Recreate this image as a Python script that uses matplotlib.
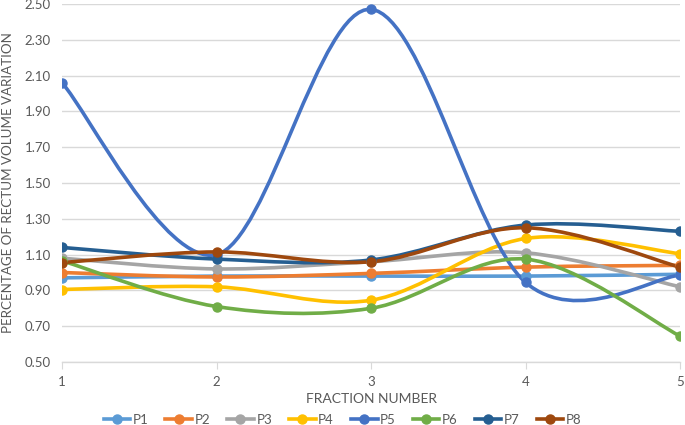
import matplotlib.pyplot as plt
from matplotlib.path import Path
from matplotlib.patches import PathPatch
from matplotlib.lines import Line2D

fractions = [1, 2, 3, 4, 5]
series_names = ["P1", "P2", "P3", "P4", "P5", "P6", "P7", "P8"]
p1 = [0.97, 0.98, 0.98, 0.98, 0.99]
p2 = [1.00, 0.975, 0.995, 1.03, 1.04]
p3 = [1.08, 1.02, 1.06, 1.11, 0.92]
p4 = [0.905, 0.92, 0.845, 1.19, 1.105]
p5 = [2.06, 1.10, 2.47, 0.945, 0.985]
p6 = [1.065, 0.81, 0.80, 1.075, 0.645]
p7 = [1.14, 1.075, 1.07, 1.265, 1.23]
p8 = [1.055, 1.115, 1.06, 1.25, 1.03]
colors = ["#5B9BD5", "#ED7D31", "#A5A5A5", "#FFC000",
          "#4472C4", "#70AD47", "#255E91", "#9E480E"]
yticks = [0.50, 0.70, 0.90, 1.10, 1.30, 1.50, 1.70, 1.90, 2.10, 2.30, 2.50]

plt.rcParams['font.family'] = ['Lato', 'DejaVu Sans']
txt = "#595959"

fig = plt.figure(figsize=(6.85, 4.25), dpi=100)
ax = fig.add_axes([62 / 685, 1 - 362 / 425, 618 / 685, 358 / 425])


def smooth_path(xs, ys):
    # Excel-style smoothed line: Catmull-Rom segments as cubic Beziers
    pts = list(zip(xs, ys))
    n = len(pts)
    verts = [pts[0]]
    codes = [Path.MOVETO]
    for i in range(n - 1):
        p0 = pts[i - 1] if i > 0 else pts[i]
        pa = pts[i]
        pb = pts[i + 1]
        p3_ = pts[i + 2] if i + 2 < n else pts[i + 1]
        c1 = (pa[0] + (pb[0] - p0[0]) / 6, pa[1] + (pb[1] - p0[1]) / 6)
        c2 = (pb[0] - (p3_[0] - pa[0]) / 6, pb[1] - (p3_[1] - pa[1]) / 6)
        verts += [c1, c2, pb]
        codes += [Path.CURVE4] * 3
    return Path(verts, codes)


all_series = [p1, p2, p3, p4, p5, p6, p7, p8]
handles = []
for name, vals, c in zip(series_names, all_series, colors):
    patch = PathPatch(smooth_path(fractions, vals), facecolor="none",
                      edgecolor=c, lw=2.6, capstyle="round", zorder=3)
    ax.add_patch(patch)
    ax.plot(fractions, vals, "o", color=c, ms=6.5, zorder=4)
    handles.append(Line2D([0], [0], color=c, lw=2.6, marker="o", ms=6.5, label=name))

ax.set_xlim(1, 5)
ax.set_ylim(0.5, 2.5)
ax.set_xticks(fractions)
ax.set_yticks(yticks)
ax.set_yticklabels([f"{v:.2f}" for v in yticks])
ax.grid(axis="y", color="#D9D9D9", lw=1)
ax.set_axisbelow(True)
for s in ["top", "right", "left"]:
    ax.spines[s].set_visible(False)
ax.spines["bottom"].set_color("#D9D9D9")
ax.spines["bottom"].set_linewidth(1)
ax.spines["bottom"].set_zorder(1)
ax.tick_params(axis="y", length=0, pad=8, labelsize=9.5, labelcolor=txt)
ax.tick_params(axis="x", length=5, color="#D9D9D9", pad=5, labelsize=9.5, labelcolor=txt)

ax.set_xlabel("FRACTION NUMBER", fontsize=10, color=txt, labelpad=4)
ax.set_ylabel("PERCENTAGE OF RECTUM VOLUME VARIATION", fontsize=9.6, color=txt, labelpad=8)

fig.legend(handles=handles, loc="lower center", bbox_to_anchor=(0.5, -0.03), ncol=8,
           frameon=False, fontsize=9.5, labelcolor=txt, handlelength=2.0,
           handletextpad=0.2, columnspacing=1.3)

fig.savefig("out.png", dpi=100)
